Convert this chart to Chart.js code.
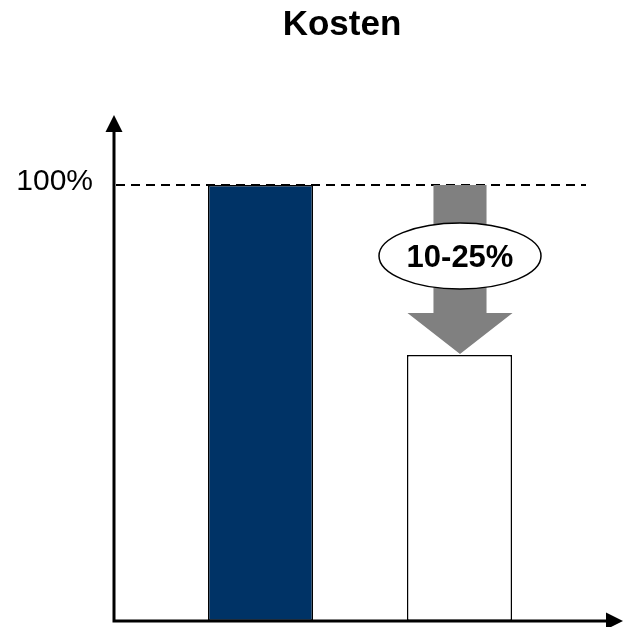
<!DOCTYPE html>
<html>
<head>
<meta charset="utf-8">
<title>Kosten</title>
<script src="https://cdn.jsdelivr.net/npm/chart.js@4.4.1/dist/chart.umd.min.js"></script>
<style>
  html, body { margin: 0; padding: 0; background: #ffffff; }
  #wrap { width: 624px; height: 627px; }
</style>
</head>
<body>
<div id="wrap"><canvas id="c" width="624" height="627"></canvas></div>
<script>
// Cost comparison: current level vs. reduced level
const categories = ['Heute', 'Zukunft'];
const costValues = [100, 61];
const barColors = ['#003366', '#ffffff'];
const tickValues = [100];
const tickLabels = ['100%'];
const titleText = 'Kosten';
const reductionText = '10-25%';

const FONT = '"Liberation Sans", Arial, sans-serif';

// Frame, reference line, reduction arrow and annotations
const decorations = {
  id: 'decorations',
  afterDatasetsDraw(chart) {
    const ctx = chart.ctx;
    const y = chart.scales.y;
    const meta = chart.getDatasetMeta(0);
    const axisX = 114, axisY = y.getPixelForValue(0);

    ctx.save();

    // dashed 100% reference line
    const yRef = y.getPixelForValue(tickValues[0]);
    ctx.strokeStyle = '#000';
    ctx.lineWidth = 2;
    ctx.setLineDash([9, 6]);
    ctx.beginPath();
    ctx.moveTo(axisX + 2, yRef);
    ctx.lineTo(586, yRef);
    ctx.stroke();
    ctx.setLineDash([]);

    // tick label
    ctx.fillStyle = '#000';
    ctx.font = '30px ' + FONT;
    ctx.textAlign = 'right';
    ctx.textBaseline = 'alphabetic';
    tickValues.forEach((v, i) => {
      ctx.fillText(tickLabels[i], 93, y.getPixelForValue(v) + 5);
    });

    // reduction arrow from 100% down to the second bar
    const bar = meta.data[1];
    const half = bar.width / 2;
    const cx = bar.x + 0.5;
    const top = yRef;
    const tip = bar.y - 1;
    const headH = 41;
    const shaftHalf = half * 0.505;
    ctx.fillStyle = '#808080';
    ctx.beginPath();
    ctx.moveTo(cx - shaftHalf, top);
    ctx.lineTo(cx + shaftHalf, top);
    ctx.lineTo(cx + shaftHalf, tip - headH);
    ctx.lineTo(cx + half, tip - headH);
    ctx.lineTo(cx, tip);
    ctx.lineTo(cx - half, tip - headH);
    ctx.lineTo(cx - shaftHalf, tip - headH);
    ctx.closePath();
    ctx.fill();

    // ellipse with reduction range
    const ey = 256;
    ctx.beginPath();
    ctx.ellipse(cx, ey, 81, 33, 0, 0, Math.PI * 2);
    ctx.fillStyle = '#fff';
    ctx.fill();
    ctx.lineWidth = 1.5;
    ctx.strokeStyle = '#000';
    ctx.stroke();
    ctx.fillStyle = '#000';
    ctx.font = 'bold 31px ' + FONT;
    ctx.textAlign = 'center';
    ctx.fillText(reductionText, cx, ey + 11);

    // axes with arrowheads
    ctx.lineWidth = 3;
    ctx.strokeStyle = '#000';
    ctx.beginPath();
    ctx.moveTo(axisX, 128);
    ctx.lineTo(axisX, axisY);
    ctx.lineTo(610, axisY);
    ctx.stroke();
    ctx.fillStyle = '#000';
    ctx.beginPath();
    ctx.moveTo(axisX, 115);
    ctx.lineTo(axisX + 8.5, 132);
    ctx.lineTo(axisX - 8.5, 132);
    ctx.closePath();
    ctx.fill();
    ctx.beginPath();
    ctx.moveTo(623, axisY);
    ctx.lineTo(606, axisY - 8.5);
    ctx.lineTo(606, axisY + 8.5);
    ctx.closePath();
    ctx.fill();

    // title
    ctx.font = 'bold 35px ' + FONT;
    ctx.textAlign = 'center';
    ctx.fillText(titleText, 342, 35);

    ctx.restore();
  }
};

new Chart(document.getElementById('c'), {
  type: 'bar',
  data: {
    labels: categories,
    datasets: [{
      data: costValues,
      backgroundColor: barColors,
      borderColor: '#000',
      borderWidth: 1.5,
      borderSkipped: false,
      categoryPercentage: 1,
      barPercentage: 0.528
    }]
  },
  options: {
    responsive: false,
    animation: false,
    devicePixelRatio: 1,
    layout: { padding: { left: 161, right: 65, top: 185, bottom: 6 } },
    plugins: { legend: { display: false }, tooltip: { enabled: false }, title: { display: false } },
    scales: {
      x: { display: false, offset: true },
      y: { display: false, min: 0, max: 100 }
    }
  },
  plugins: [decorations]
});
</script>
</body>
</html>
